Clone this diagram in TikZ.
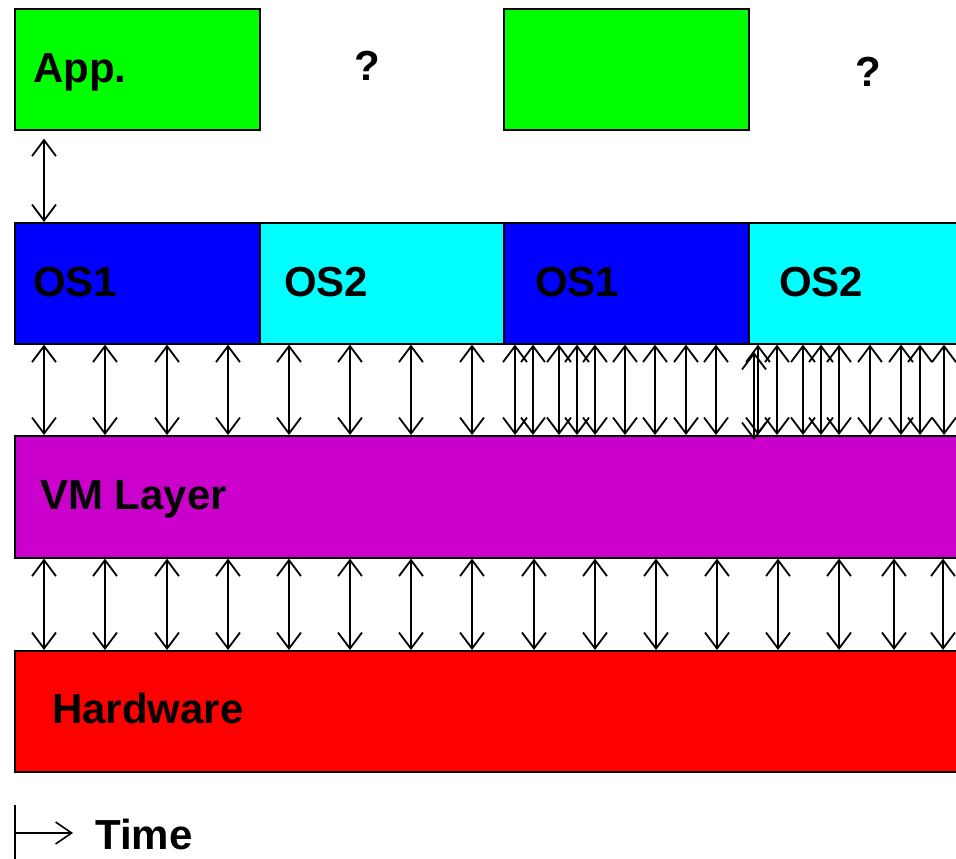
\documentclass[tikz,border=0pt]{standalone}
\usepackage{fontspec}
\setmainfont{Liberation Sans}
\usepackage{xcolor}
\usetikzlibrary{arrows.meta, positioning}

\definecolor{appgreen}{RGB}{0,255,0}
\definecolor{osblue}{RGB}{0,0,255}
\definecolor{oscyan}{RGB}{0,255,255}
\definecolor{vmmagenta}{RGB}{204,0,204}
\definecolor{hwred}{RGB}{255,0,0}

\tikzset{
  layer/.style={draw=black, line width=1.6pt, anchor=north west, inner sep=0pt, minimum height=121pt},
  lbl/.style={anchor=base west, inner sep=0pt, font=\bfseries\fontsize{42}{50}\selectfont},
  updown/.style={line width=1.8pt, {Straight Barb[length=16pt,width=24pt]}-{Straight Barb[length=16pt,width=24pt]}}
}

\begin{document}
\begin{tikzpicture}[x=1pt, y=-1pt]
  \clip (0,0) rectangle (956,859);
  % Application boxes
  \node[layer, fill=appgreen, minimum width=245pt] (app1) at (14,8) {};
  \node[layer, fill=appgreen, minimum width=245pt] (app2) at (503,8) {};
  % Guest OS time slices
  \node[layer, fill=osblue, minimum width=245pt] (os1a) at (14,222) {};
  \node[layer, fill=oscyan, minimum width=244pt] (os2a) at (259,222) {};
  \node[layer, fill=osblue, minimum width=245pt] (os1b) at (503,222) {};
  \node[layer, fill=oscyan, minimum width=245pt] (os2b) at (748,222) {};
  % VM layer and hardware
  \node[layer, fill=vmmagenta, minimum width=980pt, minimum height=122pt] (vm) at (14,435) {};
  \node[layer, fill=hwred, minimum width=980pt] (hw) at (14,650) {};
  % Labels
  \node[lbl] (applbl) at (33,83) {App.};
  \node[lbl] (q1) at (354,81) {?};
  \node[lbl] (q2) at (855,87) {?};
  \node[lbl] (os1albl) at (33,296) {OS1};
  \node[lbl] (os2albl) at (284,296) {OS2};
  \node[lbl] (os1blbl) at (535,296) {OS1};
  \node[lbl] (os2blbl) at (779,296) {OS2};
  \node[lbl] (vmlbl) at (40,509) {VM Layer};
  \node[lbl] (hwlbl) at (52,723) {Hardware};
  % App to OS
  \draw[updown, shorten <=8pt] (44,0 |- app1.south) -- (44,0 |- os1a.north);
  % OS to VM layer
  \foreach \x in {44,105,167,228,289,350,411,472,515,533,559,577,595,625,655,686,716,758,777,803,821,839,870,901,920,944}
    \draw[updown] (\x,0 |- os1a.south) -- (\x,0 |- vm.north);
  \coordinate (oddtop) at (754,352);
  \coordinate (oddbot) at (754,440);
  \draw[updown] (oddtop) -- (oddbot);
  % VM layer to hardware
  \foreach \x in {44,105,167,228,289,350,411,472,534,595,656,717,778,839,894,943}
    \draw[updown] (\x,0 |- vm.south) -- (\x,0 |- hw.north);
  % Time axis
  \coordinate (tstart) at (14,833);
  \coordinate (tend) at (73,833);
  \draw[line width=1.6pt, {Bar[width=56pt]}-{Straight Barb[length=16pt,width=22pt]}] (tstart) -- (tend);
  \node[lbl] (timelbl) at (95,849) {Time};
\end{tikzpicture}
\end{document}
